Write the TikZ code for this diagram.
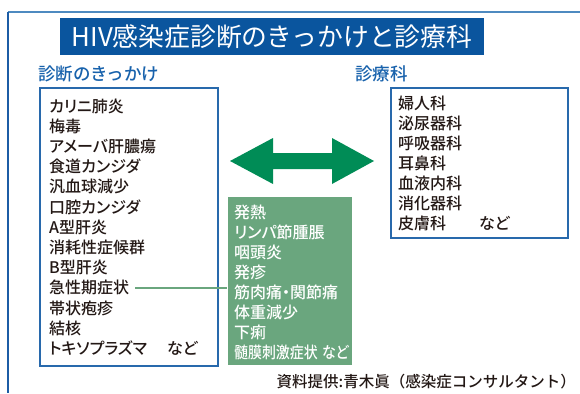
\documentclass[tikz,border=0pt]{standalone}
\usepackage{fontspec}
\setmainfont{Noto Sans CJK JP Medium}[RawFeature=+palt]
\newfontfamily\jpreg{Noto Sans CJK JP}
\newfontfamily\jpfull{Noto Sans CJK JP Medium}
\definecolor{frametop}{RGB}{78,138,192}
\definecolor{frameleft}{RGB}{28,92,165}
\definecolor{titleblue}{RGB}{10,85,158}
\definecolor{headblue}{RGB}{24,98,172}
\definecolor{boxblue}{RGB}{40,105,172}
\definecolor{softgreen}{RGB}{106,166,126}
\definecolor{arrowgreen}{RGB}{0,140,86}
\definecolor{ink}{RGB}{35,24,21}
\begin{document}
\begin{tikzpicture}[x=1pt,y=-1pt,
  item/.style={anchor=west,inner sep=0pt,font=\fontsize{16}{16}\selectfont,text=ink},
  gitem/.style={anchor=west,inner sep=0pt,font=\fontsize{16}{16}\selectfont,text=white},
  heading/.style={anchor=west,inner sep=0pt,font=\jpfull\fontsize{17.5}{17.5}\selectfont,text=headblue},
  listbox/.style={draw=boxblue,line width=1.2pt},
]
\useasboundingbox (0,0) rectangle (580,393);
% frame
\draw[frametop,line width=2.2pt] (8,12) -- (580,12);
\draw[frameleft,line width=1.6pt] (8,12) -- (8,393);
% title
\node[fill=titleblue,minimum width=424pt,minimum height=37pt,inner sep=0pt,text=white,
  font=\jpreg\fontsize{25.8}{25.8}\selectfont] (title) at (272,36.5) {HIV感染症診断のきっかけと診療科};
% headings
\node[heading] (hl) at (38,74) {診断のきっかけ};
\node[heading] (hr) at (355,74) {診療科};
% boxes
\node[listbox,minimum width=178pt,minimum height=278pt,inner sep=0pt] (lbox) at (129,227) {};
\node[listbox,minimum width=177pt,minimum height=150pt,inner sep=0pt] (rbox) at (479.5,163) {};
\node[fill=softgreen,minimum width=124pt,minimum height=168pt,inner sep=0pt] (gbox) at (289.5,281) {};
% left items
\foreach \t [count=\i] in {カリニ肺炎,梅毒,アメーバ肝膿瘍,食道カンジダ,汎血球減少,口腔カンジダ,A型肝炎,消耗性症候群,B型肝炎,急性期症状,帯状疱疹,結核,トキソプラズマ\hspace{20pt}など}
  \node[item] (l\i) at (49,{106+20.2*(\i-1)}) {\t};
% right items
\foreach \t [count=\i] in {婦人科,泌尿器科,呼吸器科,耳鼻科,血液内科,消化器科,皮膚科\hspace{33pt}など}
  \node[item] (r\i) at (398,{103+20*(\i-1)}) {\t};
% green items
\foreach \t [count=\i] in {発熱,リンパ節腫脹,咽頭炎,発疹,筋肉痛・関節痛,体重減少,下痢,\scalebox{0.87}[1]{髄膜刺激症状\hspace{5pt}など}}
  \node[gitem] (g\i) at (234,{212+20.1*(\i-1)}) {\t};
% connector
\draw[softgreen,line width=1.6pt,shorten <=6pt] (l10.east) -- (l10.east -| gbox.west);
% double arrow
\fill[arrowgreen] (230,161) -- (273,138) -- (273,153) -- (332,153) -- (332,138) -- (374,161)
  -- (332,184) -- (332,169) -- (273,169) -- (273,184) -- cycle;
% source
\node[anchor=east,inner sep=0pt,font=\jpfull\fontsize{15.5}{15.5}\selectfont,text=ink] (src) at (576,382) {資料提供:青木眞（感染症コンサルタント）};
\end{tikzpicture}
\end{document}
